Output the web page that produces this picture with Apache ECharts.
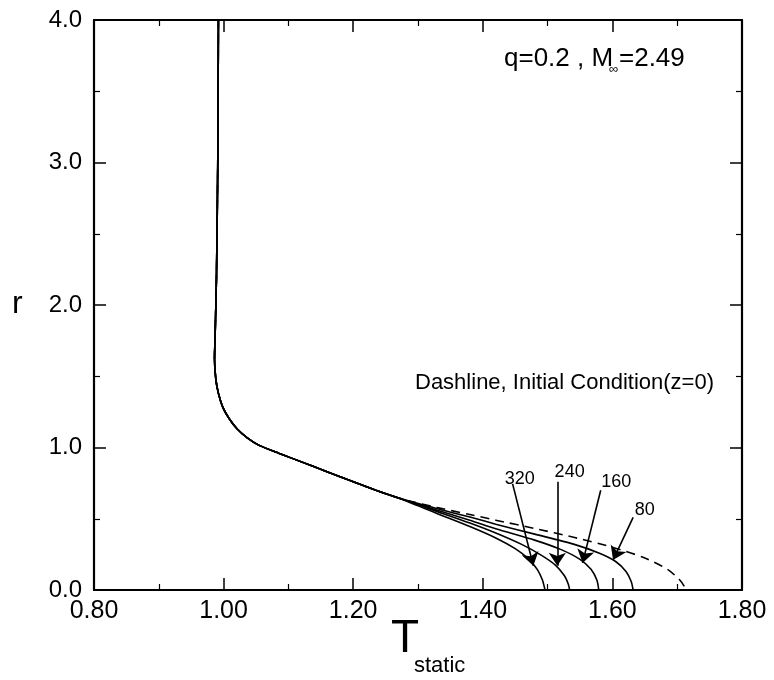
<!DOCTYPE html>
<html><head><meta charset="utf-8">
<script src="https://cdn.jsdelivr.net/npm/echarts@6/dist/echarts.min.js"></script>
<style>html,body{margin:0;padding:0;background:#fff}#c{width:774px;height:680px}</style>
</head><body><div id="c"></div>
<script>
// shared trunk (T_static, r) common to all profiles
const trunk = [[0.992,4.0],[0.991,3.0],[0.989,2.2],[0.987,1.8],[0.986,1.62],[0.988,1.48],[0.992,1.38],[0.999,1.28],[1.009,1.20],[1.021,1.13],[1.036,1.07],[1.055,1.015],[1.085,0.96],[1.137,0.87],[1.188,0.78],[1.235,0.70],[1.270,0.645]];
// tails after branching (z = 0 dashed, then z = 80,160,240,320)
const tailInit = [[1.33,0.578],[1.38,0.530],[1.42,0.490],[1.48,0.432],[1.54,0.370],[1.60,0.300],[1.65,0.225],[1.685,0.145],[1.703,0.075],[1.711,0.025],[1.713,0.0]];
const tail80  = [[1.33,0.570],[1.38,0.512],[1.42,0.462],[1.48,0.392],[1.54,0.322],[1.58,0.258],[1.605,0.200],[1.621,0.130],[1.629,0.060],[1.632,0.0]];
const tail160 = [[1.33,0.560],[1.38,0.490],[1.42,0.430],[1.48,0.350],[1.52,0.285],[1.550,0.215],[1.567,0.145],[1.576,0.070],[1.579,0.0]];
const tail240 = [[1.33,0.550],[1.38,0.470],[1.42,0.400],[1.46,0.320],[1.49,0.245],[1.512,0.175],[1.526,0.100],[1.532,0.040],[1.534,0.0]];
const tail320 = [[1.33,0.535],[1.38,0.445],[1.42,0.365],[1.45,0.290],[1.470,0.220],[1.484,0.145],[1.492,0.070],[1.496,0.0]];
const zLabels = ['320','240','160','80'];
const labelPos = [[1.457,0.78],[1.534,0.83],[1.606,0.76],[1.650,0.56]];
const arrowFrom = [[1.446,0.745],[1.515,0.76],[1.582,0.70],[1.632,0.51]];
const arrowTo = [[1.478,0.17],[1.515,0.17],[1.554,0.19],[1.601,0.21]];
const xTicks = [0.8,1.0,1.2,1.4,1.6,1.8];
const yTicks = [0,1,2,3,4];

const FONT = '"Liberation Sans", Arial, sans-serif';
const chart = echarts.init(document.getElementById('c'));
const line = (tail, dashed) => ({
  type:'line', xAxisIndex:0, yAxisIndex:0, data: trunk.concat(tail),
  symbol:'none', smooth:0.25, animation:false, silent:true,
  lineStyle:{color:'#000', width:1.6, type: dashed ? [9,6] : 'solid'}
});
const axisCommon = {
  axisLine:{show:true, onZero:false, lineStyle:{color:'#000', width:2.2}},
  axisTick:{show:true, inside:true, length:12, lineStyle:{color:'#000', width:1.5}},
  minorTick:{show:true, splitNumber:2, length:6, lineStyle:{color:'#000', width:1.2}},
  splitLine:{show:false}
};
chart.setOption({
  animation:false,
  grid:{left:94, right:32, top:20, bottom:90},
  xAxis:[
    Object.assign({type:'value', min:xTicks[0], max:xTicks[xTicks.length-1], interval:0.2, position:'bottom',
      axisLabel:{color:'#000', fontSize:25, fontFamily:FONT, margin:9, formatter:v=>v.toFixed(2)}}, axisCommon),
    Object.assign({type:'value', min:xTicks[0], max:xTicks[xTicks.length-1], interval:0.2, position:'top',
      axisLabel:{show:false}}, axisCommon)
  ],
  yAxis:[
    Object.assign({type:'value', min:yTicks[0], max:yTicks[yTicks.length-1], interval:1, position:'left',
      axisLabel:{color:'#000', fontSize:24, fontFamily:FONT, margin:12, formatter:v=>v.toFixed(1)}}, axisCommon),
    Object.assign({type:'value', min:yTicks[0], max:yTicks[yTicks.length-1], interval:1, position:'right',
      axisLabel:{show:false}}, axisCommon)
  ],
  series:[
    line(tailInit, true), line(tail80), line(tail160), line(tail240), line(tail320),
    {
      type:'scatter', symbolSize:0, silent:true,
      data: zLabels.map((t,i)=>[labelPos[i][0], labelPos[i][1], t]),
      itemStyle:{color:'#000', opacity:1},
      label:{show:true, position:'inside', formatter:p=>p.value[2], color:'#000', fontSize:18, fontFamily:FONT},
      markLine:{
        silent:true, symbol:['none','arrow'], symbolSize:13,
        label:{show:false},
        lineStyle:{color:'#000', width:1.6, type:'solid', opacity:1},
        itemStyle:{color:'#000'},
        data: arrowFrom.map((a,i)=>[{coord:a},{coord:arrowTo[i]}])
      }
    }
  ],
  graphic:[
    {type:'text', left:504, top:46, style:{text:'q=0.2 , M', fontSize:26, fontFamily:FONT, fill:'#000'}},
    {type:'text', left:609, top:63, style:{text:'∞', fontSize:13, fontFamily:FONT, fill:'#000'}},
    {type:'text', left:619, top:46, style:{text:'=2.49', fontSize:26, fontFamily:FONT, fill:'#000'}},
    {type:'text', left:415, top:372, style:{text:'Dashline, Initial Condition(z=0)', fontSize:22, fontFamily:FONT, fill:'#000'}},
    {type:'text', left:12, top:288, style:{text:'r', fontSize:32, fontFamily:FONT, fill:'#000'}},
    {type:'text', left:391, top:616, style:{text:'T', fontSize:46, fontFamily:FONT, fill:'#000'}},
    {type:'text', left:414, top:655, style:{text:'static', fontSize:22, fontFamily:FONT, fill:'#000'}}
  ]
});
</script></body></html>
